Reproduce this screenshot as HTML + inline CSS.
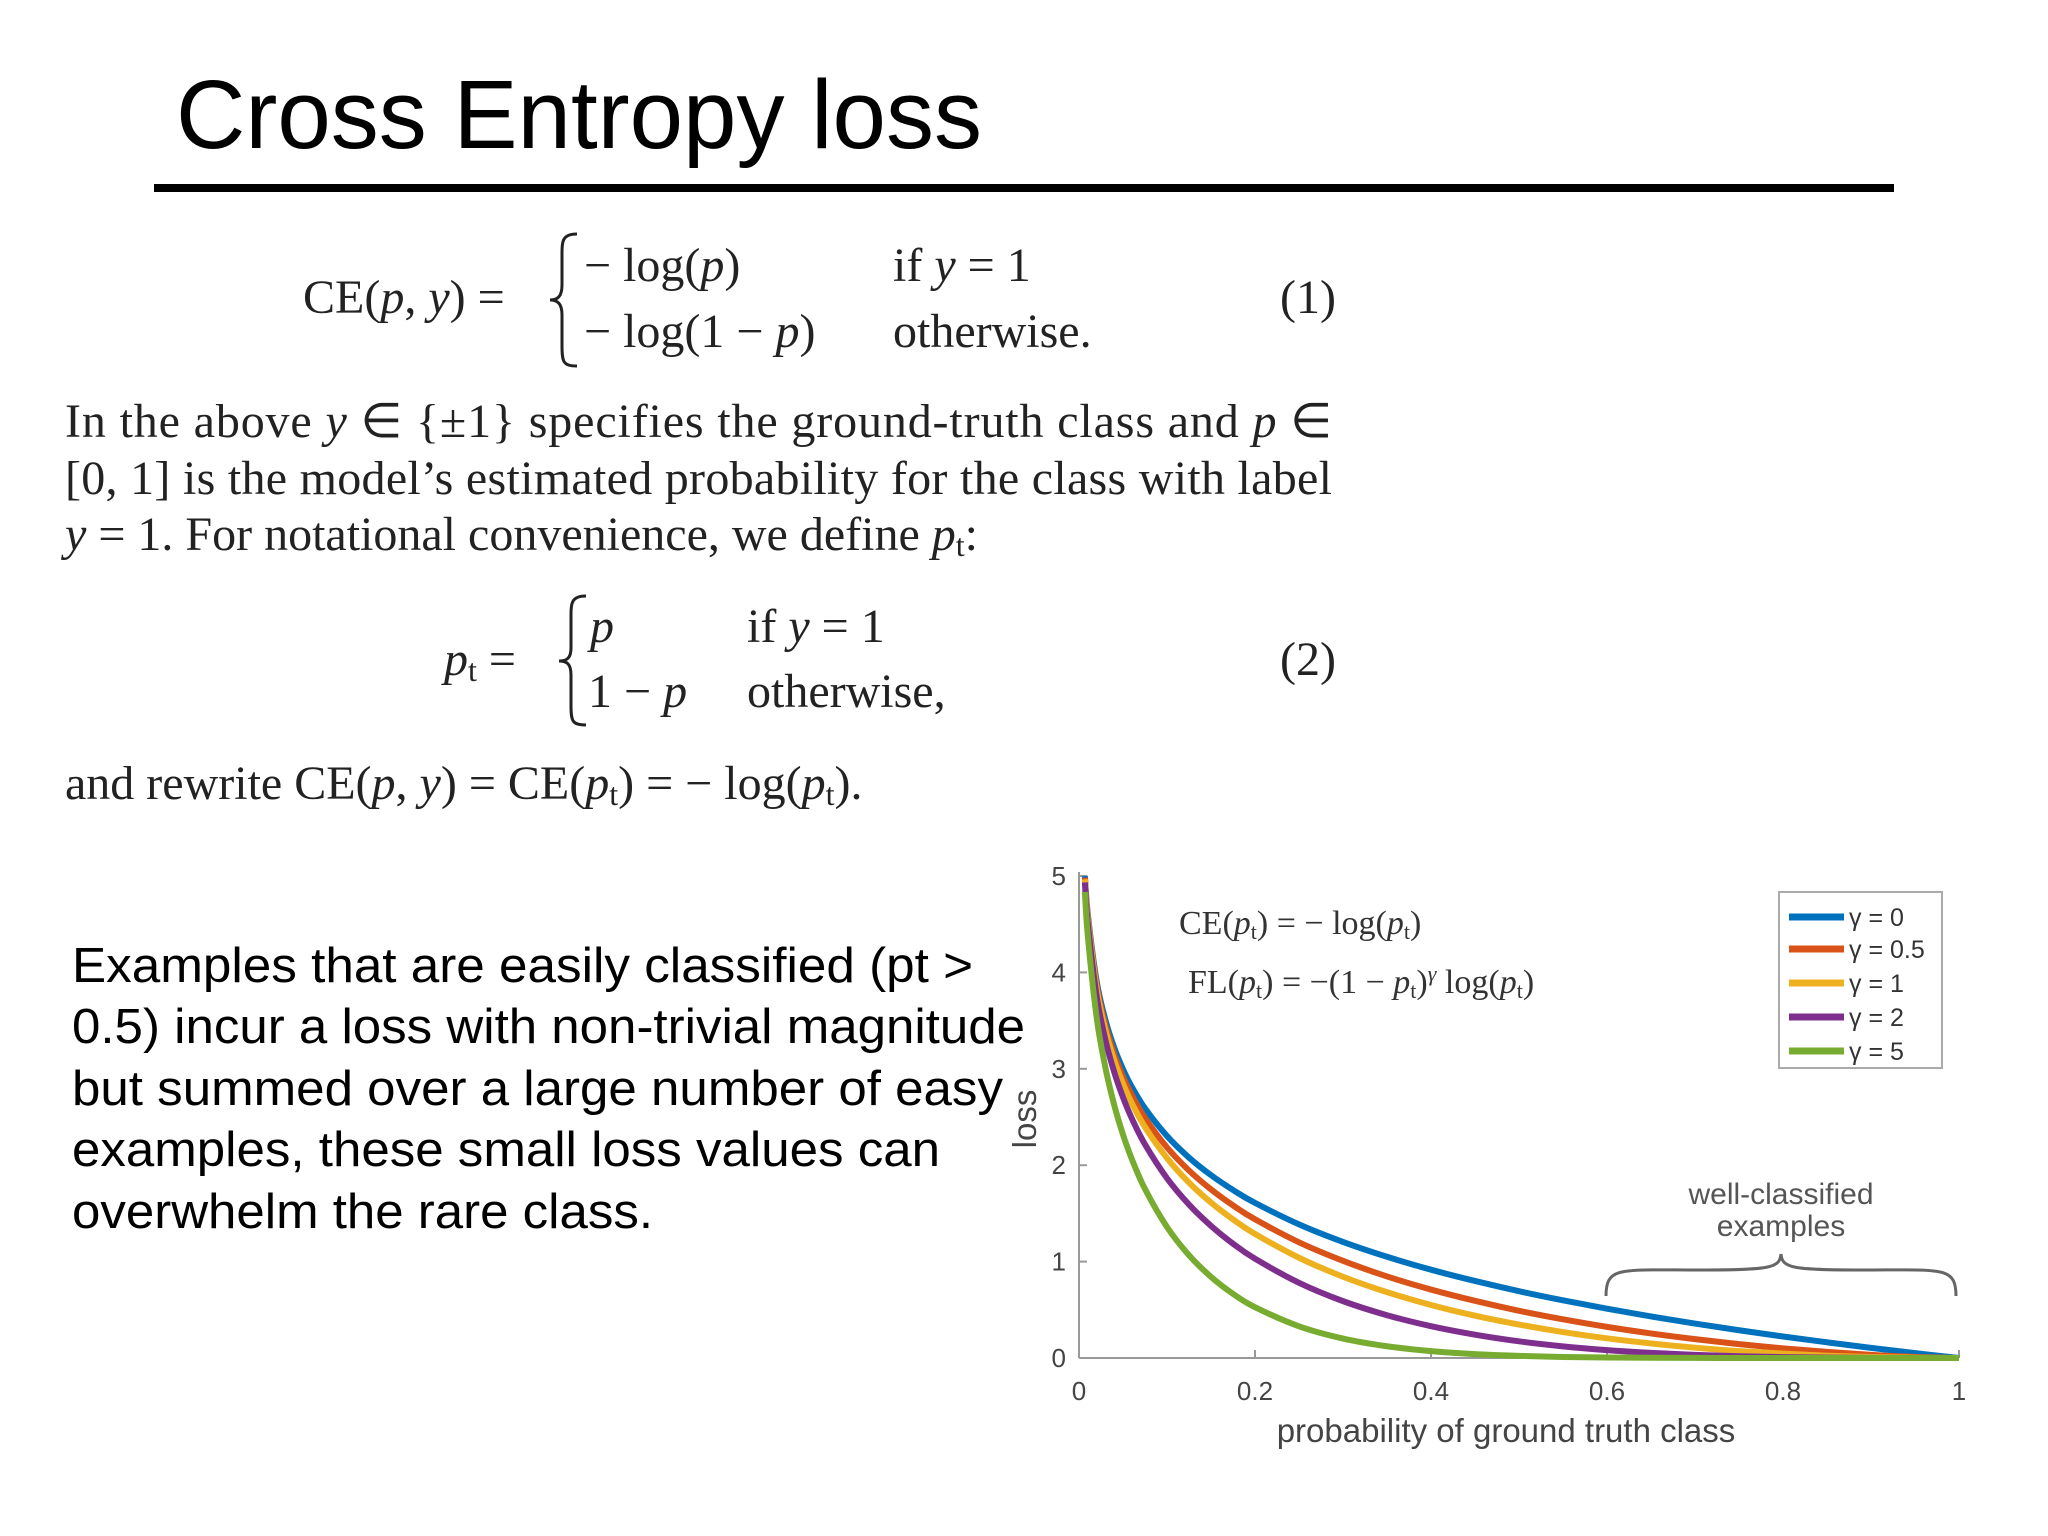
<!DOCTYPE html>
<html><head><meta charset="utf-8">
<style>
html,body{margin:0;padding:0;background:#fff;}
svg{display:block;}
.serif{font-family:"Liberation Serif",serif;fill:#222;}
.sans{font-family:"Liberation Sans",sans-serif;}
.it{font-style:italic;}
</style></head>
<body>
<svg id="page" width="2048" height="1536" viewBox="0 0 2048 1536">
<rect x="0" y="0" width="2048" height="1536" fill="#fff"/>
<text class="sans" x="176" y="148" font-size="97" fill="#000" textLength="806" lengthAdjust="spacingAndGlyphs">Cross Entropy loss</text>
<rect x="154" y="184" width="1740" height="8" fill="#000"/>

<g class="serif" font-size="48">
<text x="303" y="313">CE(<tspan class="it">p</tspan>, <tspan class="it">y</tspan>) =</text>
<path d="M577,234 C561,234 562,242 562,260 L562,285 C562,296 558,300 550,300 C558,300 562,304 562,315 L562,345 C562,362 563,366 577,366" fill="none" stroke="#222" stroke-width="3"/>
<text x="584" y="281">− log(<tspan class="it">p</tspan>)</text>
<text x="893" y="281">if <tspan class="it">y</tspan> = 1</text>
<text x="584" y="347">− log(1 − <tspan class="it">p</tspan>)</text>
<text x="893" y="347">otherwise.</text>
<text x="1280" y="313">(1)</text>
</g>

<g class="serif" font-size="48">
<text x="65" y="437" textLength="1267" lengthAdjust="spacing">In the above <tspan class="it">y</tspan> ∈ {±1} specifies the ground-truth class and <tspan class="it">p</tspan> ∈</text>
<text x="65" y="494" textLength="1267" lengthAdjust="spacing">[0, 1] is the model’s estimated probability for the class with label</text>
<text x="65" y="550"><tspan class="it">y</tspan> = 1. For notational convenience, we define <tspan class="it">p</tspan><tspan font-size="32" dy="6">t</tspan><tspan dy="-6">:</tspan></text>
</g>

<g class="serif" font-size="48">
<text x="444" y="675"><tspan class="it">p</tspan><tspan font-size="32" dy="6">t</tspan><tspan dy="-6"> =</tspan></text>
<path d="M586,596 C570,596 571,604 571,622 L571,648 C571,658 567,661 559,661 C567,661 571,664 571,675 L571,705 C571,721 572,725 586,725" fill="none" stroke="#222" stroke-width="3"/>
<text x="590" y="642" class="it">p</text>
<text x="747" y="642">if <tspan class="it">y</tspan> = 1</text>
<text x="588" y="707">1 − <tspan class="it">p</tspan></text>
<text x="747" y="707">otherwise,</text>
<text x="1280" y="675">(2)</text>
</g>

<text class="serif" font-size="48" x="65" y="799">and rewrite CE(<tspan class="it">p</tspan>, <tspan class="it">y</tspan>) = CE(<tspan class="it">p</tspan><tspan font-size="32" dy="6">t</tspan><tspan dy="-6">) = − log(</tspan><tspan class="it">p</tspan><tspan font-size="32" dy="6">t</tspan><tspan dy="-6">).</tspan></text>

<g class="sans" font-size="49" fill="#000">
<text x="72" y="982" textLength="901" lengthAdjust="spacingAndGlyphs">Examples that are easily classified (pt &gt;</text>
<text x="72" y="1043" textLength="953" lengthAdjust="spacingAndGlyphs">0.5) incur a loss with non-trivial magnitude</text>
<text x="72" y="1105" textLength="931" lengthAdjust="spacingAndGlyphs">but summed over a large number of easy</text>
<text x="72" y="1166" textLength="868" lengthAdjust="spacingAndGlyphs">examples, these small loss values can</text>
<text x="72" y="1228" textLength="581" lengthAdjust="spacingAndGlyphs">overwhelm the rare class.</text>
</g>

<g id="chart"></g>
</svg>
<script>
const xValues=[0.0067,0.01,0.02,0.03,0.04,0.05,0.06,0.075,0.1,0.125,0.15,0.175,0.2,0.25,0.3,0.35,0.4,0.45,0.5,0.55,0.6,0.65,0.7,0.75,0.8,0.85,0.9,0.95,1.0];
const gammaLabels=["γ = 0","γ = 0.5","γ = 1","γ = 2","γ = 5"];
const lossGamma0=[5.0,4.605,3.912,3.507,3.219,2.996,2.813,2.590,2.303,2.079,1.897,1.743,1.609,1.386,1.204,1.050,0.916,0.799,0.693,0.598,0.511,0.431,0.357,0.288,0.223,0.163,0.105,0.051,0];
const lossGamma05=[4.983,4.582,3.873,3.454,3.154,2.920,2.728,2.491,2.185,1.945,1.749,1.583,1.439,1.200,1.008,0.846,0.710,0.593,0.490,0.401,0.323,0.255,0.196,0.144,0.100,0.063,0.033,0.011,0];
const lossGamma1=[4.966,4.559,3.834,3.402,3.090,2.846,2.644,2.396,2.073,1.819,1.612,1.438,1.287,1.040,0.843,0.683,0.550,0.439,0.347,0.269,0.204,0.151,0.107,0.072,0.045,0.024,0.011,0.003,0];
const lossGamma2=[4.933,4.513,3.757,3.300,2.967,2.704,2.486,2.216,1.865,1.592,1.371,1.186,1.030,0.780,0.590,0.444,0.330,0.242,0.173,0.121,0.082,0.053,0.032,0.018,0.009,0.004,0.001,0,0];
const lossGamma5=[4.835,4.379,3.536,3.012,2.625,2.318,2.064,1.753,1.359,1.066,0.842,0.666,0.527,0.329,0.202,0.122,0.071,0.040,0.022,0.011,0.005,0.002,0.001,0,0,0,0,0,0];
const xTicks=[0,0.2,0.4,0.6,0.8,1];
const xTickLabels=["0","0.2","0.4","0.6","0.8","1"];
const yTicks=[0,1,2,3,4,5];
const yTickLabels=["0","1","2","3","4","5"];

const NS="http://www.w3.org/2000/svg";
const X0=1079,X1=1959,Y0=1358,Y1=876;
function sx(v){return X0+(X1-X0)*v;}
function sy(v){return Y0-(Y0-Y1)*v/5;}
const chart=document.getElementById('chart');
function mk(tag,attrs,parent){const e=document.createElementNS(NS,tag);for(const k in attrs)e.setAttribute(k,attrs[k]);(parent||chart).appendChild(e);return e;}

const axY=mk('line',{x1:X0,y1:Y1-4,x2:X0,y2:Y0,stroke:'#999','stroke-width':2});


const axX=mk('line',{x1:X0,y1:Y0,x2:X1,y2:Y0,stroke:'#999','stroke-width':2});



xTicks.forEach((t,i)=>{
  mk('line',{x1:sx(t),y1:Y0,x2:sx(t),y2:Y0-8,stroke:'#999','stroke-width':2});
  const tx=mk('text',{x:sx(t),y:1400,'text-anchor':'middle','font-size':26,fill:'#444','font-family':'"Liberation Sans",sans-serif'});
  tx.textContent=xTickLabels[i];
  
  
});
yTicks.forEach((t,i)=>{
  mk('line',{x1:X0,y1:sy(t),x2:X0+8,y2:sy(t),stroke:'#999','stroke-width':2});
  const tx=mk('text',{x:1066,y:sy(t)+9,'text-anchor':'end','font-size':26,fill:'#444','font-family':'"Liberation Sans",sans-serif'});
  tx.textContent=yTickLabels[i];
  
  
});
const xt=mk('text',{x:1506,y:1442,'text-anchor':'middle','font-size':33,fill:'#444','font-family':'"Liberation Sans",sans-serif'});
xt.textContent='probability of ground truth class';


const yt=mk('text',{x:0,y:0,'text-anchor':'middle','font-size':33,fill:'#444','font-family':'"Liberation Sans",sans-serif',transform:'translate(1036,1119) rotate(-90)'});
yt.textContent='loss';



const colors=['#0072BD','#D95319','#EDB120','#7E2F8E','#77AC30'];
const series=[lossGamma0,lossGamma05,lossGamma1,lossGamma2,lossGamma5];
function pathFor(vals){
  const p=xValues.map((x,i)=>[sx(x),sy(vals[i])]);
  let d='M'+p[0][0]+','+p[0][1];
  for(let i=0;i<p.length-1;i++){
    const a=p[Math.max(0,i-1)],b=p[i],c=p[i+1],e=p[Math.min(p.length-1,i+2)];
    let c1x=b[0]+(c[0]-a[0])/6,c1y=b[1]+(c[1]-a[1])/6;
    let c2x=c[0]-(e[0]-b[0])/6,c2y=c[1]-(e[1]-b[1])/6;
    c1y=Math.min(c1y,Y0);c2y=Math.min(c2y,Y0);
    d+=' C'+c1x+','+c1y+' '+c2x+','+c2y+' '+c[0]+','+c[1];
  }
  return d;
}
series.forEach((vals,i)=>{
  const pth=mk('path',{d:pathFor(vals),fill:'none',stroke:colors[i],'stroke-width':6,'stroke-linejoin':'round'});
  
  
});

const lg=mk('g',{});


mk('rect',{x:1779,y:892,width:163,height:176,fill:'#fff',stroke:'#aaa','stroke-width':2},lg);
const ly=[917,949,983,1017,1051];
gammaLabels.forEach((lab,i)=>{
  const en=mk('g',{},lg);
  
  
  mk('line',{x1:1789,y1:ly[i],x2:1844,y2:ly[i],stroke:colors[i],'stroke-width':7},en);
  const t=mk('text',{x:1849,y:ly[i]+9,'font-size':25,fill:'#333','font-family':'"Liberation Sans",sans-serif'},en);
  t.textContent=lab;
});

const f1=mk('text',{x:1179,y:934,'font-size':34,fill:'#333','font-family':'"Liberation Serif",serif'});
f1.innerHTML='CE(<tspan font-style="italic">p</tspan><tspan font-size="22" dy="5">t</tspan><tspan dy="-5">) = − log(</tspan><tspan font-style="italic">p</tspan><tspan font-size="22" dy="5">t</tspan><tspan dy="-5">)</tspan>';


const f2=mk('text',{x:1188,y:993,'font-size':34,fill:'#333','font-family':'"Liberation Serif",serif'});
f2.innerHTML='FL(<tspan font-style="italic">p</tspan><tspan font-size="22" dy="5">t</tspan><tspan dy="-5">) = −(1 − </tspan><tspan font-style="italic">p</tspan><tspan font-size="22" dy="5">t</tspan><tspan dy="-5">)</tspan><tspan font-size="22" dy="-12" font-style="italic">γ</tspan><tspan dy="12"> log(</tspan><tspan font-style="italic">p</tspan><tspan font-size="22" dy="5">t</tspan><tspan dy="-5">)</tspan>';



const an=mk('g',{});


const a1=mk('text',{x:1781,y:1204,'text-anchor':'middle','font-size':30,fill:'#555','font-family':'"Liberation Sans",sans-serif'},an);
a1.textContent='well-classified';
const a2=mk('text',{x:1781,y:1236,'text-anchor':'middle','font-size':30,fill:'#555','font-family':'"Liberation Sans",sans-serif'},an);
a2.textContent='examples';
mk('path',{d:'M1606,1296 C1606,1266 1620,1270 1700,1270 C1770,1270 1780,1268 1781,1254 C1782,1268 1792,1270 1862,1270 C1942,1270 1956,1266 1956,1296',fill:'none',stroke:'#666','stroke-width':3},an);
</script>
</body></html>
